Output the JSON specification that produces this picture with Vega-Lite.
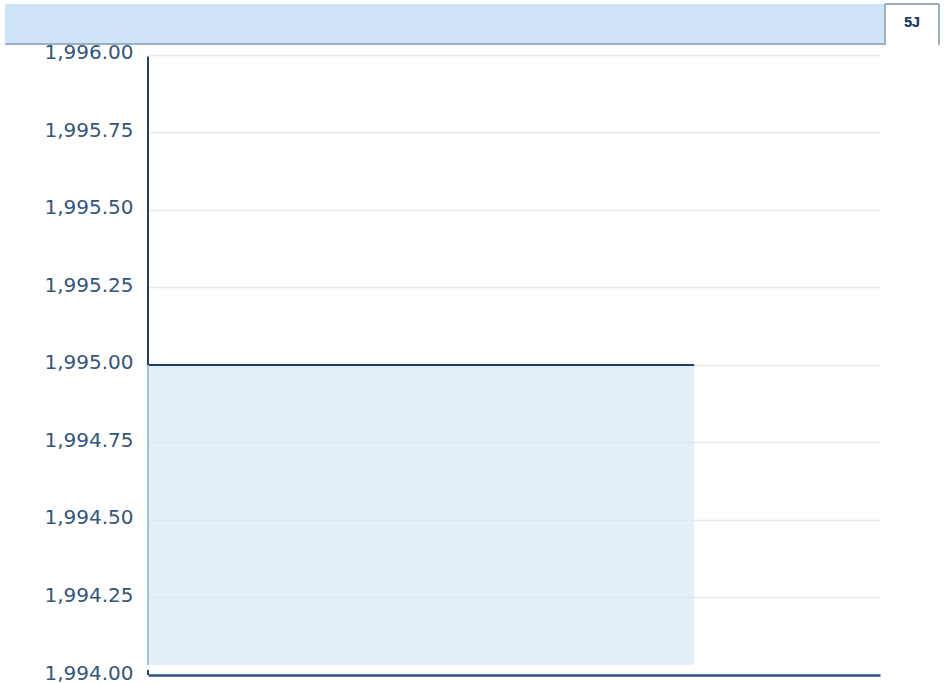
{
  "$schema": "https://vega.github.io/schema/vega-lite/v6.json",
  "width": 732,
  "height": 672,
  "autosize": {"type": "none"},
  "padding": {"left": 148, "top": 3, "right": 69, "bottom": 9},
  "background": "white",
  "config": {"view": {"stroke": null}},
  "data": {"values": [
    {"t": 0, "value": 1995},
    {"t": 0.746, "value": 1995}
  ]},
  "layer": [
    {
      "mark": {"type": "area", "color": "#d7e8f6", "opacity": 0.7, "line": {"color": "#1f3f6b", "strokeWidth": 2, "opacity": 1}},
      "encoding": {
        "x": {"field": "t", "type": "quantitative", "scale": {"domain": [0, 1], "nice": false, "zero": false},
              "axis": {"labels": false, "ticks": false, "grid": false, "title": null, "domainColor": "#2d5180", "domainWidth": 2.5}},
        "y": {"field": "value", "type": "quantitative",
              "scale": {"domain": [1994, 1996.1677], "nice": false, "zero": false},
              "axis": {"values": [1994, 1994.25, 1994.5, 1994.75, 1995, 1995.25, 1995.5, 1995.75, 1996],
                       "format": ",.2f", "title": null, "ticks": false, "domain": false,
                       "grid": true, "gridColor": "#e6e6e6", "gridWidth": 1.5,
                       "labelFont": "DejaVu Sans", "labelFontSize": 20, "labelColor": "#34557c",
                       "labelPadding": 15, "labelBaseline": "middle", "labelOffset": -2}},
        "y2": {"datum": 1994.032}
      }
    },
    {
      "mark": {"type": "rule", "color": "#1f3f6b", "strokeWidth": 2},
      "encoding": {"x": {"datum": 0}, "y": {"datum": 1995}, "y2": {"datum": 1995.994}}
    },
    {
      "mark": {"type": "rule", "color": "#a3c0dc", "strokeWidth": 2},
      "encoding": {"x": {"datum": 0}, "y": {"datum": 1994.032}, "y2": {"datum": 1995}}
    },
    {
      "mark": {"type": "rule", "color": "#1f3f6b", "strokeWidth": 2},
      "encoding": {"x": {"datum": 0}, "y": {"datum": 1994}, "y2": {"datum": 1994.016}}
    },
    {
      "mark": {"type": "rect", "color": "#cfe4f7"},
      "encoding": {"x": {"datum": -0.1954}, "x2": {"datum": 1.0068}, "y": {"datum": 1996.0387}, "y2": {"datum": 1996.1645}}
    },
    {
      "mark": {"type": "rule", "color": "#9aafc3", "strokeWidth": 2},
      "encoding": {"x": {"datum": -0.1954}, "x2": {"datum": 1.0068}, "y": {"datum": 1996.0355}}
    },
    {
      "mark": {"type": "rect", "color": "white"},
      "encoding": {"x": {"datum": 1.0068}, "x2": {"datum": 1.0806}, "y": {"datum": 1996.0323}, "y2": {"datum": 1996.1645}}
    },
    {
      "mark": {"type": "rule", "color": "#9aafc3", "strokeWidth": 2},
      "encoding": {"x": {"datum": 1.0068}, "y": {"datum": 1996.0323}, "y2": {"datum": 1996.1645}}
    },
    {
      "mark": {"type": "rule", "color": "#9aafc3", "strokeWidth": 2},
      "encoding": {"x": {"datum": 1.0806}, "y": {"datum": 1996.0323}, "y2": {"datum": 1996.1645}}
    },
    {
      "mark": {"type": "rule", "color": "#9aafc3", "strokeWidth": 2},
      "encoding": {"x": {"datum": 1.0068}, "x2": {"datum": 1.0806}, "y": {"datum": 1996.1645}}
    },
    {
      "mark": {"type": "text", "text": "5J", "font": "Liberation Sans", "fontSize": 14, "fontWeight": "bold", "color": "#1f3f6b", "align": "center", "baseline": "middle"},
      "encoding": {"x": {"datum": 1.0437}, "y": {"datum": 1996.1032}}
    }
  ]
}
